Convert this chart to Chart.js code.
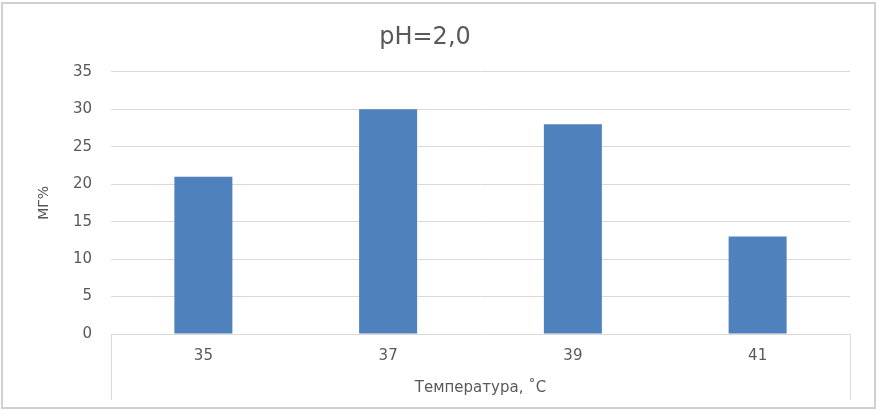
<!DOCTYPE html>
<html>
<head>
<meta charset="utf-8">
<script src="https://cdn.jsdelivr.net/npm/chart.js@4/dist/chart.umd.min.js"></script>
<style>
  html, body { margin: 0; padding: 0; background: #fff; }
  #wrap { width: 879px; height: 411px; position: relative; }
</style>
</head>
<body>
<div id="wrap"><canvas id="c" width="879" height="411"></canvas></div>
<script>
const categories = ['35', '37', '39', '41'];
const values = [21, 30, 28, 13];
const yTicks = [0, 5, 10, 15, 20, 25, 30, 35];
const titleText = 'pH=2,0';
const xTitle = 'Температура, ˚С';
const yTitle = 'МГ%';

const TEXT = '#595959';
const GRID = '#D9D9D9';
const FONT = "'DejaVu Sans', sans-serif";

const framePlugin = {
  id: 'frame',
  afterDraw(chart) {
    const ctx = chart.ctx;
    const a = chart.chartArea;
    ctx.save();
    ctx.strokeStyle = GRID;
    ctx.lineWidth = 1;
    // inner category box verticals
    ctx.beginPath();
    ctx.moveTo(Math.round(a.left) + 0.5, a.bottom);
    ctx.lineTo(Math.round(a.left) + 0.5, 400);
    ctx.moveTo(Math.round(a.right) + 0.5, a.bottom);
    ctx.lineTo(Math.round(a.right) + 0.5, 400);
    ctx.stroke();
    // outer border
    ctx.strokeStyle = '#D0D0D0';
    ctx.lineWidth = 2;
    ctx.strokeRect(2, 3, 873, 405);
    ctx.restore();
  }
};

new Chart(document.getElementById('c'), {
  type: 'bar',
  data: {
    labels: categories,
    datasets: [{
      data: values,
      backgroundColor: '#4F81BD',
      borderWidth: 0,
      categoryPercentage: 1,
      barPercentage: 0.314
    }]
  },
  options: {
    responsive: false,
    animation: false,
    events: [],
    layout: { padding: { top: 0, right: 29, bottom: 0, left: 0 } },
    plugins: {
      legend: { display: false },
      tooltip: { enabled: false },
      title: {
        display: true,
        text: titleText,
        color: TEXT,
        font: { family: FONT, size: 24, weight: 'normal', lineHeight: 1.2 },
        padding: { top: 23, bottom: 20 }
      }
    },
    scales: {
      x: {
        grid: { display: false, drawTicks: false },
        border: { display: false },
        ticks: { color: TEXT, font: { family: FONT, size: 15 }, padding: 13 },
        title: {
          display: true, text: xTitle, color: TEXT,
          font: { family: FONT, size: 15, lineHeight: 1.2 },
          padding: { top: 0, bottom: 14 }
        },
        afterFit(scale) { scale.height = 77; }
      },
      y: {
        min: 0, max: 35,
        afterBuildTicks(scale) { scale.ticks = yTicks.map(v => ({ value: v })); },
        grid: { color: GRID, drawTicks: false, lineWidth: 1 },
        border: { display: false },
        ticks: { color: TEXT, font: { family: FONT, size: 15 }, padding: 19 },
        title: {
          display: true, text: yTitle, color: TEXT,
          font: { family: FONT, size: 14, lineHeight: 1.2 },
          padding: { top: 36, bottom: 0 }
        },
        afterFit(scale) { scale.width = 111; }
      }
    }
  },
  plugins: [framePlugin]
});
</script>
</body>
</html>
